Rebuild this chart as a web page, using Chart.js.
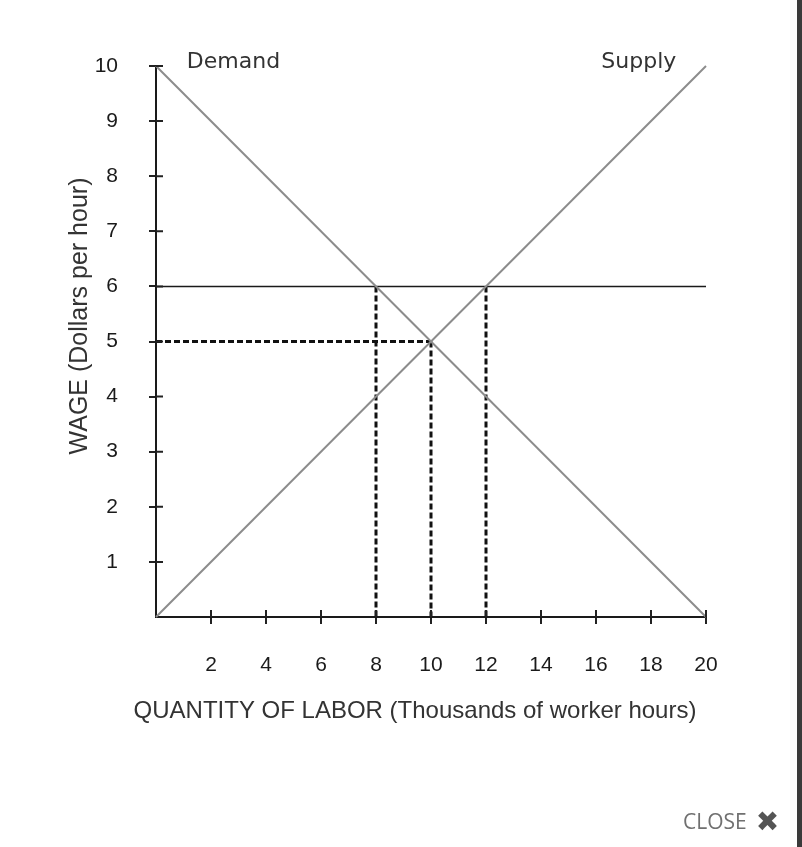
<!DOCTYPE html>
<html>
<head>
<meta charset="utf-8">
<script src="https://cdn.jsdelivr.net/npm/chart.js@4.4.1/dist/chart.umd.min.js"></script>
<style>
  html, body { margin: 0; padding: 0; background: #fff; }
  #wrap { position: relative; width: 802px; height: 847px; overflow: hidden; }
  #chart { position: absolute; left: 0; top: 0; }
  #edge { position: absolute; right: 0; top: 0; width: 5px; height: 847px; background: #3a3a3a; }
  #close { position: absolute; left: 683px; top: 805px; font: 21px "Open Sans", sans-serif; color: #707070; white-space: nowrap; }
  #close .x { font: 28px "DejaVu Sans", sans-serif; color: #555; vertical-align: -2px; margin-left: 9px; }
</style>
</head>
<body>
<div id="wrap">
  <canvas id="chart" width="797" height="847"></canvas>
  <div id="close">CLOSE<span class="x">✖</span></div>
  <div id="edge"></div>
</div>
<script>
// wage in dollars per hour, quantity in thousands of worker hours
const qtyEnds = [0, 20];
const demandWage = [10, 0];
const supplyWage = [0, 10];
const minWage = [6, 6];
const eqQty = 10;
const eqWage = 5;
const qtyDemandedAtMin = 8;
const qtySuppliedAtMin = 12;
const xTicks = [2, 4, 6, 8, 10, 12, 14, 16, 18, 20];
const yTicks = [1, 2, 3, 4, 5, 6, 7, 8, 9, 10];

const toPoints = (xs, ys) => xs.map((x, i) => ({ x: x, y: ys[i] }));

const solid = (data, color, width) => ({
  data, showLine: true, borderColor: color, borderWidth: width,
  pointRadius: 0, clip: false
});
const dashed = data => ({
  data, showLine: true, borderColor: '#111', borderWidth: 3,
  borderDash: [6, 3], pointRadius: 0, clip: false
});

const tickFont = { family: 'Liberation Sans, Arial, sans-serif', size: 21 };

// short tick stubs on the inner side of each axis
const innerTicks = {
  id: 'innerTicks',
  afterDatasetsDraw(chart) {
    const { ctx, chartArea, scales } = chart;
    ctx.save();
    ctx.strokeStyle = '#222';
    ctx.lineWidth = 2;
    ctx.beginPath();
    scales.x.ticks.forEach(t => {
      const px = scales.x.getPixelForValue(t.value);
      ctx.moveTo(px, chartArea.bottom);
      ctx.lineTo(px, chartArea.bottom - 7);
    });
    scales.y.ticks.forEach(t => {
      const py = scales.y.getPixelForValue(t.value);
      ctx.moveTo(chartArea.left, py);
      ctx.lineTo(chartArea.left + 7, py);
    });
    ctx.stroke();
    ctx.restore();
  }
};

const texts = {
  id: 'texts',
  afterDraw(chart) {
    const { ctx, scales } = chart;
    ctx.save();
    ctx.fillStyle = '#333';
    ctx.textBaseline = 'alphabetic';

    ctx.font = '22px "DejaVu Sans", sans-serif';
    ctx.textAlign = 'left';
    ctx.fillText('Demand', scales.x.getPixelForValue(1.12), scales.y.getPixelForValue(10) + 2);
    ctx.textAlign = 'right';
    ctx.fillText('Supply', scales.x.getPixelForValue(18.92), scales.y.getPixelForValue(10) + 2);

    ctx.font = '24px "Liberation Sans", Arial, sans-serif';
    ctx.textAlign = 'center';
    ctx.fillText('QUANTITY OF LABOR (Thousands of worker hours)', 415, 718);

    ctx.font = '25px "Liberation Sans", Arial, sans-serif';
    ctx.translate(87, 316);
    ctx.rotate(-Math.PI / 2);
    ctx.fillText('WAGE (Dollars per hour)', 0, 0);
    ctx.restore();
  }
};

new Chart(document.getElementById('chart'), {
  type: 'scatter',
  data: {
    datasets: [
      solid(toPoints(qtyEnds, demandWage), '#8c8c8c', 2),
      solid(toPoints(qtyEnds, supplyWage), '#8c8c8c', 2),
      solid(toPoints(qtyEnds, minWage), '#1a1a1a', 1.5),
      dashed(toPoints([0, eqQty], [eqWage, eqWage])),
      dashed(toPoints([eqQty, eqQty], [eqWage, 0])),
      dashed(toPoints([qtyDemandedAtMin, qtyDemandedAtMin], [minWage[0], 0])),
      dashed(toPoints([qtySuppliedAtMin, qtySuppliedAtMin], [minWage[0], 0]))
    ]
  },
  options: {
    responsive: false,
    animation: false,
    layout: { padding: { top: 66, right: 91, left: 0, bottom: 0 } },
    plugins: { legend: { display: false }, tooltip: { enabled: false } },
    scales: {
      x: {
        type: 'linear', min: 0, max: 20,
        afterBuildTicks: s => { s.ticks = xTicks.map(v => ({ value: v })); },
        afterFit: s => { s.height = 230; },
        grid: { drawOnChartArea: false, tickLength: 7, color: '#222', lineWidth: 2 },
        border: { color: '#1a1a1a', width: 2 },
        ticks: { font: tickFont, color: '#1a1a1a', padding: 29, maxRotation: 0, autoSkip: false }
      },
      y: {
        type: 'linear', min: 0, max: 10,
        afterBuildTicks: s => { s.ticks = yTicks.map(v => ({ value: v })); },
        afterFit: s => { s.width = 156; },
        grid: { drawOnChartArea: false, tickLength: 7, color: '#222', lineWidth: 2 },
        border: { color: '#1a1a1a', width: 2 },
        ticks: { font: tickFont, color: '#1a1a1a', padding: 31, autoSkip: false }
      }
    }
  },
  plugins: [innerTicks, texts]
});
</script>
</body>
</html>
